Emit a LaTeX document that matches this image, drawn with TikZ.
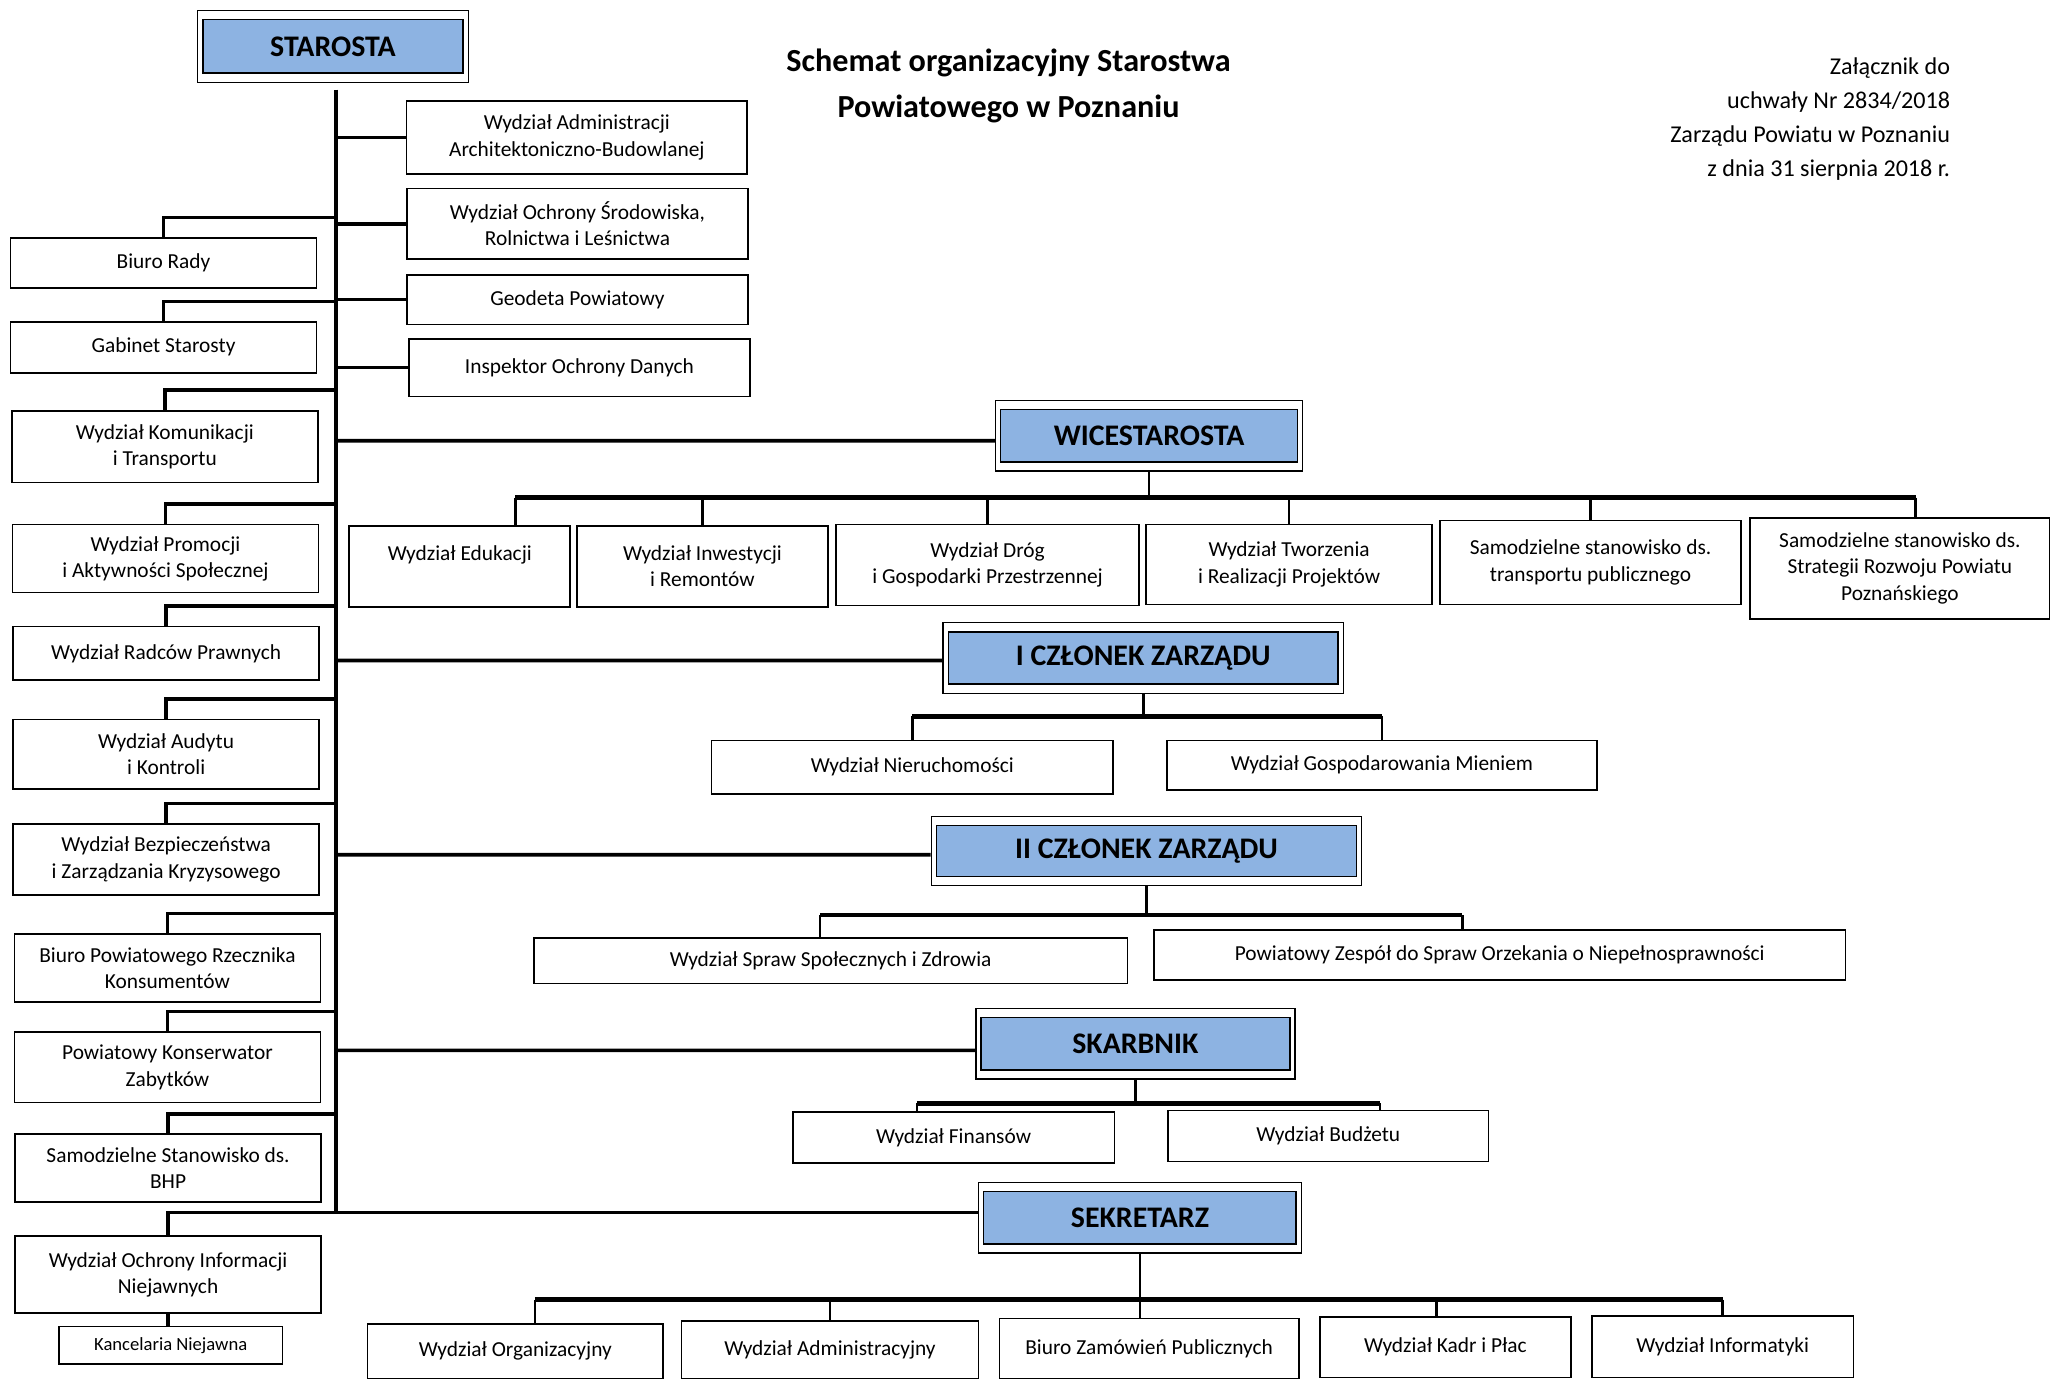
\documentclass[tikz,border=0pt]{standalone}
\usepackage{fontspec}
\setmainfont{Carlito}
\usetikzlibrary{calc, positioning}
\definecolor{mgrblue}{RGB}{141,179,226}
\newcommand{\boxfont}{\fontsize{9.3}{11.4}\selectfont}
\newcommand{\mgrfont}{\fontsize{13}{15}\selectfont\bfseries}
\tikzset{
    block/.style={
        rectangle, draw=black, line width=0.7pt, fill=white,
        align=center, inner sep=1pt, font=\boxfont
    },
    leftblock/.style={block, minimum width=4.68cm},
    rightblock/.style={block, minimum width=5.21cm},
    mgrblock/.style={
        rectangle, draw=black, line width=0.6pt, fill=white,
        minimum height=1.08cm, font=\mgrfont,
        path picture={\draw[line width=0.7pt, fill=mgrblue]
            ($(path picture bounding box.south west)+(0.08cm,0.14cm)$) rectangle
            ($(path picture bounding box.north east)+(-0.08cm,-0.14cm)$);}
    },
    conn/.style={draw=black, line width=1.6pt},
    bus/.style={draw=black, line width=2.1pt},
    drop/.style={draw=black, line width=1.1pt}
}

\begin{document}
\begin{tikzpicture}[x=0.02cm, y=-0.02cm]

\useasboundingbox (0,0) rectangle (1568,1055);
\clip (0,0) rectangle (1568,1055);
\fill[white] (0,0) rectangle (1568,1055);

% Header
\node[font=\fontsize{14}{20}\selectfont\bfseries, align=center] (title) at (771,66) {Schemat organizacyjny Starostwa\\Powiatowego w Poznaniu};
\node[font=\fontsize{10.5}{14.8}\selectfont, align=right, anchor=east] (zal) at (1497,91) {Załącznik do\\uchwały Nr 2834/2018\\Zarządu Powiatu w Poznaniu\\z dnia 31 sierpnia 2018 r.};

% Managers
\node[mgrblock, minimum width=4.14cm, minimum height=1.1cm] (starosta) at (254.5,35.5) {STAROSTA};
\node[mgrblock, minimum width=4.7cm] (wice) at (878.5,333) {WICESTAROSTA};
\node[mgrblock, minimum width=6.12cm] (czl1) at (874,503) {I CZŁONEK ZARZĄDU};
\node[mgrblock, minimum width=6.58cm, minimum height=1.06cm] (czl2) at (876.5,650.5) {II CZŁONEK ZARZĄDU};
\node[mgrblock, minimum width=4.88cm] (skarb) at (868,798) {SKARBNIK};
\node[mgrblock, minimum width=4.94cm] (sekr) at (871.5,931) {SEKRETARZ};

% Starosta: right column
\node[rightblock, minimum height=1.12cm] (adm) at (441,105) {Wydział Administracji\\Architektoniczno-Budowlanej};
\node[rightblock, minimum height=1.08cm] (ochr) at (441.5,171) {Wydział Ochrony Środowiska,\\Rolnictwa i Leśnictwa};
\node[rightblock, minimum height=0.76cm] (geod) at (441.5,229) {Geodeta Powiatowy};
\node[rightblock, minimum height=0.88cm] (insp) at (443,281) {Inspektor Ochrony Danych};

% Starosta: left column
\node[leftblock, minimum height=0.76cm] (biuro) at (125,201) {Biuro Rady};
\node[leftblock, minimum height=0.78cm] (gab) at (125,265.5) {Gabinet Starosty};
\node[leftblock, minimum height=1.1cm] (kom) at (126,341.5) {Wydział Komunikacji\\i Transportu};
\node[leftblock, minimum height=1.04cm] (prom) at (126.5,427) {Wydział Promocji\\i Aktywności Społecznej};
\node[leftblock, minimum height=0.82cm] (radc) at (127,499.5) {Wydział Radców Prawnych};
\node[leftblock, minimum height=1.06cm] (aud) at (127,576.5) {Wydział Audytu\\i Kontroli};
\node[leftblock, minimum height=1.08cm] (bezp) at (127,657) {Wydział Bezpieczeństwa\\i Zarządzania Kryzysowego};
\node[leftblock, minimum height=1.04cm] (rzecz) at (128,740) {Biuro Powiatowego Rzecznika\\Konsumentów};
\node[leftblock, minimum height=1.08cm] (kons) at (128,816) {Powiatowy Konserwator\\Zabytków};
\node[leftblock, minimum height=1.04cm] (bhp) at (128.5,893) {Samodzielne Stanowisko ds.\\BHP};
\node[leftblock, minimum height=1.18cm] (inf) at (128.5,974.5) {Wydział Ochrony Informacji\\Niejawnych};
\node[block, minimum width=3.42cm, minimum height=0.58cm, font=\fontsize{8.1}{10}\selectfont] (kanc) at (130.5,1028.5) {Kancelaria Niejawna};

% Wicestarosta
\node[block, minimum width=3.38cm, minimum height=1.24cm] (edu) at (351.5,433) {Wydział Edukacji\\\mbox{}};
\node[block, minimum width=3.84cm, minimum height=1.24cm] (inw) at (537,433) {Wydział Inwestycji\\i Remontów};
\node[block, minimum width=4.64cm, minimum height=1.24cm] (drog) at (755,432) {Wydział Dróg\\i Gospodarki Przestrzennej};
\node[block, minimum width=4.38cm, minimum height=1.22cm] (tworz) at (985.5,431.5) {Wydział Tworzenia\\i Realizacji Projektów};
\node[block, minimum width=4.6cm, minimum height=1.28cm] (transp) at (1216,430) {Samodzielne stanowisko ds.\\transportu publicznego};
\node[block, minimum width=4.58cm, minimum height=1.54cm] (strat) at (1452.5,434.5) {Samodzielne stanowisko ds.\\Strategii Rozwoju Powiatu\\Poznańskiego};

% I czlonek
\node[block, minimum width=6.14cm, minimum height=0.82cm] (nier) at (697.5,586.5) {Wydział Nieruchomości};
\node[block, minimum width=6.58cm, minimum height=0.76cm] (gosp) at (1056.5,585) {Wydział Gospodarowania Mieniem};

% II czlonek
\node[block, minimum width=9.08cm, minimum height=0.7cm] (spraw) at (635,734.5) {Wydział Spraw Społecznych i Zdrowia};
\node[block, minimum width=10.58cm, minimum height=0.76cm] (zesp) at (1146.5,730) {Powiatowy Zespół do Spraw Orzekania o Niepełnosprawności};

% Skarbnik
\node[block, minimum width=4.92cm, minimum height=0.78cm] (fin) at (729,869.5) {Wydział Finansów};
\node[block, minimum width=4.9cm, minimum height=0.78cm] (budz) at (1015.5,868.5) {Wydział Budżetu};

% Sekretarz
\node[block, minimum width=4.52cm, minimum height=0.84cm] (org) at (394,1033) {Wydział Organizacyjny};
\node[block, minimum width=4.54cm, minimum height=0.88cm] (admin) at (634.5,1032) {Wydział Administracyjny};
\node[block, minimum width=4.58cm, minimum height=0.92cm] (zam) at (878.5,1031) {Biuro Zamówień Publicznych};
\node[block, minimum width=3.84cm, minimum height=0.92cm] (kadr) at (1105,1030) {Wydział Kadr i Płac};
\node[block, minimum width=4.0cm, minimum height=0.94cm] (info) at (1317,1029.5) {Wydział Informatyki};

% Trunk
\coordinate (ttop) at ([xshift=0.05cm, yshift=-0.1cm]starosta.south);
\coordinate (tbot) at (ttop |- sekr.west);
\draw[conn] (ttop) -- ([yshift=0.08cm]tbot) -- ([yshift=0.08cm]sekr.west);
\draw[conn] (ttop |- wice.west) ++(0,4) -- ([yshift=-0.08cm]wice.west);
\draw[conn] (ttop |- czl1.west) ++(0,2) -- ([yshift=-0.04cm]czl1.west);
\draw[conn] (ttop |- czl2.west) ++(0,3) -- ([yshift=-0.06cm]czl2.west);
\draw[conn] (ttop |- skarb.west) ++(0,5) -- ([yshift=-0.1cm]skarb.west);
\foreach \b in {adm, ochr, geod, insp}
    \draw[conn] (ttop |- \b.west) -- (\b.west);
\foreach \b in {biuro, gab, kom, prom, radc, aud, bezp, rzecz, kons, bhp}
    \draw[conn] (\b.north) |- ($(ttop |- \b.north)+(0,-15)$);
\draw[conn] ([yshift=0.08cm]tbot) -| (inf.north);
\draw[conn] (inf.south) -- (inf.south |- kanc.north);

% Wicestarosta bus
\draw[drop] (wice.south) -- ++(0,20) coordinate (wbus);
\coordinate (eduT) at ([xshift=0.85cm]edu.north);
\coordinate (stratT) at ([xshift=0.24cm]strat.north);
\draw[bus] (eduT |- wbus) -- (stratT |- wbus);
\foreach \c in {eduT, inw.north, drog.north, tworz.north, transp.north, stratT}
    \draw[drop] (\c |- wbus) -- (\c);

% I czlonek bus
\draw[drop] (czl1.south) -- ++(0,17) coordinate (c1bus);
\draw[bus] (nier.north |- c1bus) -- (gosp.north |- c1bus);
\foreach \c in {nier, gosp}
    \draw[drop] (\c.north |- c1bus) -- (\c.north);

% II czlonek bus
\draw[drop] (czl2.south) -- ++(0,22) coordinate (c2bus);
\coordinate (sprawT) at ([xshift=-0.16cm]spraw.north);
\coordinate (zespT) at ([xshift=-0.57cm]zesp.north);
\draw[bus] (sprawT |- c2bus) -- (zespT |- c2bus);
\foreach \c in {sprawT, zespT}
    \draw[drop] (\c |- c2bus) -- (\c);

% Skarbnik bus
\draw[drop] (skarb.south) -- ++(0,18) coordinate (sbus);
\coordinate (finT) at ([xshift=-0.56cm]fin.north);
\coordinate (budzT) at ([xshift=0.79cm]budz.north);
\draw[bus] (finT |- sbus) -- (budzT |- sbus);
\foreach \c in {finT, budzT}
    \draw[drop] (\c |- sbus) -- (\c);

% Sekretarz bus
\draw[drop] (sekr.south) -- (sekr.south |- zam.north);
\coordinate (sekbus) at ($(sekr.south)+(0,35)$);
\coordinate (orgT) at ([xshift=0.3cm]org.north);
\coordinate (kadrT) at ([xshift=-0.14cm]kadr.north);
\draw[bus] (orgT |- sekbus) -- (info.north |- sekbus);
\foreach \c in {orgT, admin.north, kadrT, info.north}
    \draw[drop] (\c |- sekbus) -- (\c);

\end{tikzpicture}
\end{document}
